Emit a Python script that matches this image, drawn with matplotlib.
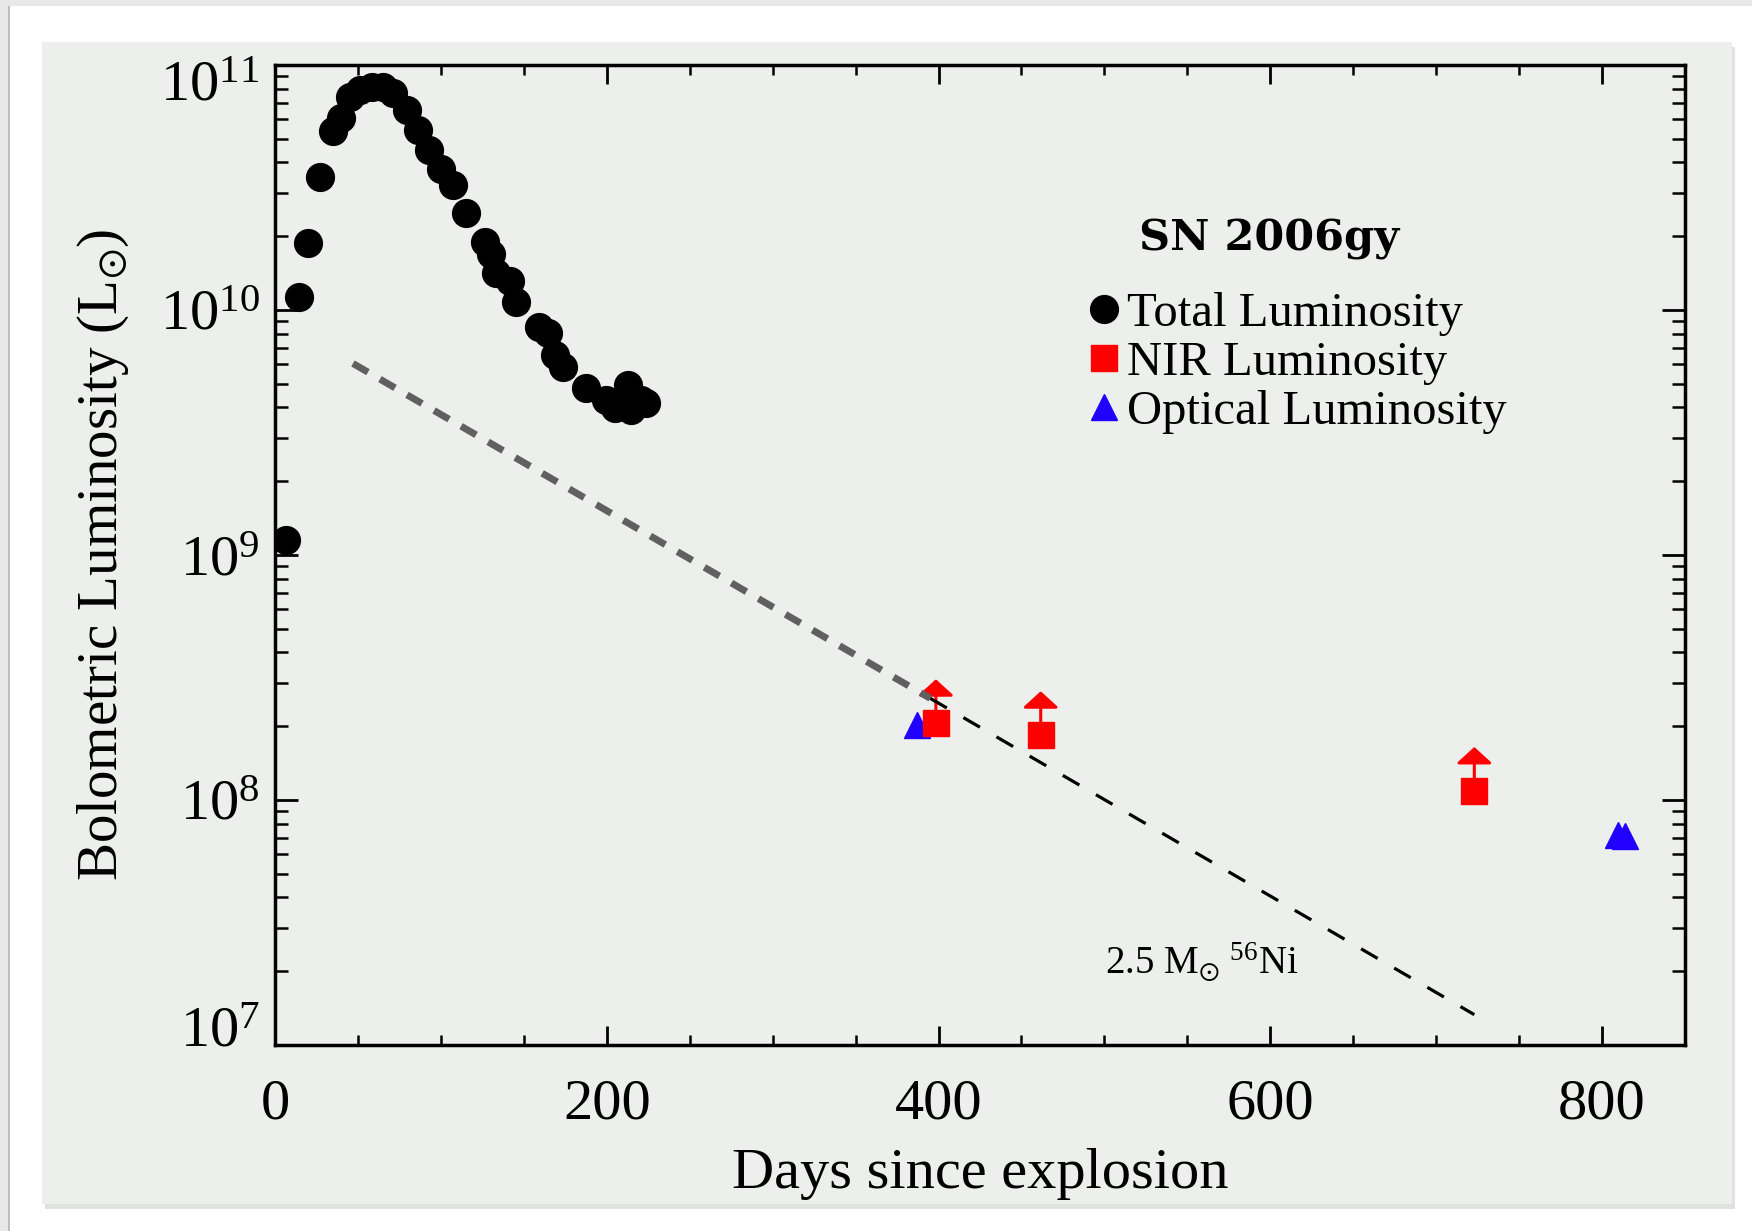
import matplotlib
matplotlib.use("Agg")
import matplotlib.pyplot as plt
from matplotlib.patches import Rectangle
from matplotlib.ticker import MultipleLocator, NullFormatter, LogLocator
from matplotlib.transforms import ScaledTranslation

# SN 2006gy light curve: bolometric luminosity in solar units
days_total = [6.6, 14.6, 20.1, 27.1, 34.7, 39.7, 45.2, 51.2, 58.2, 65.2,
              71.2, 79.3, 86.3, 93.0, 99.8, 107.4, 115.4, 126.5, 130.5, 133.5,
              141.5, 145.1, 159.2, 164.6, 168.6, 173.6, 187.7, 199.7, 204.7,
              212.7, 214.8, 220.8, 223.8]
lum_total = [1.15e9, 1.127e10, 1.884e10, 3.50e10, 5.395e10, 6.05e10, 7.43e10,
             7.91e10, 8.15e10, 8.11e10, 7.66e10, 6.55e10, 5.43e10, 4.50e10,
             3.78e10, 3.24e10, 2.49e10, 1.90e10, 1.70e10, 1.41e10, 1.31e10,
             1.08e10, 8.55e9, 8.04e9, 6.55e9, 5.87e9, 4.79e9, 4.30e9, 3.97e9,
             4.94e9, 3.91e9, 4.30e9, 4.16e9]

# NIR points are lower limits
days_nir = [398.4, 461.6, 723.0]
lum_nir = [2.06e8, 1.84e8, 1.09e8]

days_opt = [387.0, 809.5, 814.0]
lum_opt = [2.02e8, 7.18e7, 7.14e7]

# 56Co decay for 2.5 Msun of 56Ni
days_ni_early = [47, 395]
lum_ni_early = [6.05e9, 2.6e8]
days_ni_late = [395, 723]
lum_ni_late = [2.6e8, 1.33e7]

W, H = 1752, 1231
plt.rcParams['font.family'] = ['Liberation Serif', 'DejaVu Serif']
plt.rcParams['mathtext.fontset'] = 'stix'
plt.rcParams['mathtext.default'] = 'regular'

fig = plt.figure(figsize=(W / 100, H / 100), dpi=100, facecolor='white')

# slide-like backdrop
fig.add_artist(Rectangle((0, 1 - 6 / H), 1, 6 / H, transform=fig.transFigure,
                         fc='#e7e9e7', ec='none', zorder=-3))
fig.add_artist(Rectangle((0, 0), 8 / W, 1, transform=fig.transFigure,
                         fc='#e7e9e7', ec='none', zorder=-3))
fig.add_artist(Rectangle((8 / W, 0), 1.5 / W, 1 - 6 / H, transform=fig.transFigure,
                         fc='#bdbdbd', ec='none', zorder=-3))
fig.add_artist(Rectangle((45 / W, 1 - 1209 / H), 1690 / W, 1162 / H,
                         transform=fig.transFigure, fc='#d4d6d4', ec='none',
                         alpha=0.7, zorder=-2))
fig.add_artist(Rectangle((42 / W, 1 - 1204 / H), 1690 / W, 1162 / H,
                         transform=fig.transFigure, fc='#edefec', ec='none',
                         zorder=-1))

ax = fig.add_axes([275 / W, 1 - 1045 / H, 1410 / W, 980 / H])
ax.set_facecolor('none')

ax.plot(days_ni_early, lum_ni_early, color='#606060', lw=5, ls=(0, (2.5, 2.0)),
        solid_capstyle='butt', dash_capstyle='butt', zorder=4)
ax.plot(days_ni_late, lum_ni_late, color='black', lw=2.3, ls=(0, (6, 6)),
        dash_capstyle='butt', zorder=4)

tot, = ax.plot(days_total, lum_total, ls='none', marker='o', ms=20,
               color='black', label='Total Luminosity', zorder=5)
opt, = ax.plot(days_opt, lum_opt, ls='none', marker='^', ms=18.5,
               color='#2200ff', label='Optical Luminosity', zorder=5)
for d, lum in zip(days_nir, lum_nir):
    ax.annotate('', xy=(d, lum * 1.51), xytext=(d, lum),
                arrowprops=dict(arrowstyle='-|>,head_length=0.5,head_width=0.55',
                                mutation_scale=20, color='red', lw=2.2,
                                shrinkA=0, shrinkB=0), zorder=3)
nir, = ax.plot(days_nir, lum_nir, ls='none', marker='s', ms=18.7,
               color='red', label='NIR Luminosity', zorder=6)

ax.set_yscale('log')
ax.set_xlim(0, 850)
ax.set_ylim(1e7, 1e11)
ax.xaxis.set_major_locator(MultipleLocator(200))
ax.xaxis.set_minor_locator(MultipleLocator(50))
ax.yaxis.set_minor_locator(LogLocator(base=10, subs=range(2, 10)))
ax.yaxis.set_minor_formatter(NullFormatter())

ax.tick_params(which='both', direction='in', top=True, right=True, colors='black')
ax.tick_params(axis='x', which='major', length=14, width=2, pad=24, labelsize=42)
ax.tick_params(axis='x', which='minor', length=7.5, width=1.8)
ax.tick_params(axis='y', which='major', length=16.5, width=2, pad=11, labelsize=42)
ax.tick_params(axis='y', which='minor', length=9.5, width=1.8)
for s in ax.spines.values():
    s.set_linewidth(2.5)

ax.set_xlabel('Days since explosion', fontsize=42, labelpad=13)
ax.set_ylabel('Bolometric Luminosity (L$_{\\odot}$)', fontsize=41, labelpad=21)

ax.text(0.6125, 0.811, 'SN 2006gy', transform=ax.transAxes, fontsize=31,
        fontweight='bold', family='DejaVu Serif', va='baseline', ha='left')
ax.text(0.5887, 0.0724, '2.5 M$_{\\odot}$ $^{56}$Ni', transform=ax.transAxes,
        fontsize=28, va='baseline', ha='left')

ax.legend(handles=[tot, nir, opt], loc='upper left', bbox_to_anchor=(0.577, 0.768),
          fontsize=35, frameon=False, handlelength=0.65, handletextpad=0.15,
          labelspacing=0.1, borderpad=0, borderaxespad=0)

# pull the end decade labels in toward the plot
fig.canvas.draw()
for tick in ax.yaxis.get_major_ticks():
    loc = tick.get_loc()
    if abs(loc - 1e11) < 1e9:
        tick.label1.set_transform(tick.label1.get_transform() +
                                  ScaledTranslation(0, -11.5 / 72, fig.dpi_scale_trans))
    elif abs(loc - 1e7) < 1e5:
        tick.label1.set_transform(tick.label1.get_transform() +
                                  ScaledTranslation(0, 13.5 / 72, fig.dpi_scale_trans))

fig.savefig('out.png', dpi=100, facecolor=fig.get_facecolor())
